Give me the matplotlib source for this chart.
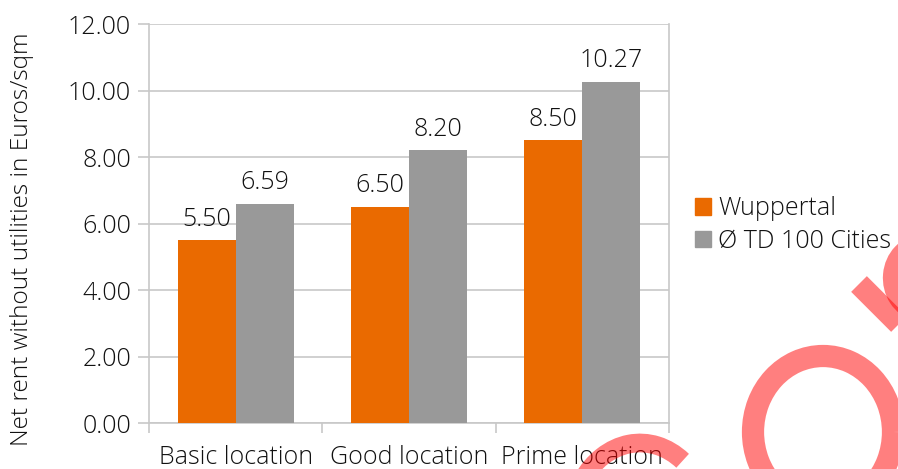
import matplotlib
matplotlib.use("Agg")
import matplotlib.pyplot as plt
from matplotlib.patches import Patch, Arc
import numpy as np

# chart data
categories = ["Basic location", "Good location", "Prime location"]
series_names = ["Wuppertal", "\u00d8 TD 100 Cities"]
wuppertal = [5.50, 6.50, 8.50]
td100 = [6.59, 8.20, 10.27]
y_ticks = [0, 2, 4, 6, 8, 10, 12]
y_label = "Net rent without utilities in Euros/sqm"

ORANGE = "#ea6a00"
GREY = "#999999"
LINE = "#c8c8c8"
TEXT = "#111111"
FS = 18

plt.rcParams["font.family"] = ["Open Sans", "DejaVu Sans"]
plt.rcParams["font.weight"] = "light"

W, H = 898, 469
fig = plt.figure(figsize=(W / 100, H / 100), dpi=100)
ax = fig.add_axes([149 / W, 1 - 423 / H, 520 / W, 399 / H])

x = np.arange(len(categories))
bw = 0.335
b1 = ax.bar(x - bw / 2, wuppertal, bw, color=ORANGE, zorder=3)
b2 = ax.bar(x + bw / 2, td100, bw, color=GREY, zorder=3)

# value labels above each bar
for bars, vals in ((b1, wuppertal), (b2, td100)):
    for rect, v in zip(bars, vals):
        ax.annotate("%.2f" % v, (rect.get_x() + rect.get_width() / 2, v),
                    xytext=(0, 10.5), textcoords="offset points",
                    ha="center", va="baseline", fontsize=FS, color=TEXT)

ax.set_xlim(-0.5, len(categories) - 0.5)
ax.set_ylim(0, 12)
ax.set_yticks(y_ticks)
ax.set_yticklabels(["%.2f" % t for t in y_ticks])
ax.set_xticks(x)
ax.set_xticklabels(categories)
ax.set_xticks(np.arange(len(categories) + 1) - 0.5, minor=True)

ax.grid(axis="y", color=LINE, lw=1.2, zorder=0)
ax.tick_params(axis="y", length=8, width=1.2, color=LINE, pad=5,
               labelsize=FS, labelcolor=TEXT)
ax.tick_params(axis="x", which="major", length=0, pad=15.5, labelsize=FS,
               labelcolor=TEXT)
ax.tick_params(axis="x", which="minor", length=7.5, width=1.2, color=LINE)
for side in ("left", "right", "bottom"):
    ax.spines[side].set_color(LINE)
    ax.spines[side].set_linewidth(1.2)
ax.spines["top"].set_visible(False)

fig.text(22 / W, 1 - 239 / H, y_label, rotation=90, ha="center", va="center",
         fontsize=17.6, color=TEXT)

handles = [Patch(color=ORANGE), Patch(color=GREY)]
fig.legend(handles, series_names, loc="center left",
           bbox_to_anchor=(695 / W, 1 - 225 / H), frameon=False,
           fontsize=FS, handlelength=0.64, handleheight=0.64,
           handletextpad=0.3, labelspacing=0.3, borderpad=0,
           borderaxespad=0, labelcolor=TEXT)

# stamp in the lower right corner, drawn in pixel coordinates
stamp = fig.add_axes([0, 0, 1, 1], zorder=10)
stamp.set_xlim(0, W)
stamp.set_ylim(0, H)
stamp.axis("off")
stamp.patch.set_alpha(0)
red = (1, 0, 0, 0.5)
stamp.add_patch(Arc((823, H - 432), 140, 152, theta1=0, theta2=360,
                    lw=16, color=red))
stamp.add_patch(Arc((922, H - 278), 56, 64, theta1=90, theta2=260,
                    lw=16, color=red))
stamp.add_patch(Arc((640, -60), 140, 172, theta1=58, theta2=140,
                    lw=13.5, color=red))
stamp.plot([859, 930], [H - 284, H - 355], color=red, lw=16,
           solid_capstyle="butt")

fig.savefig("out.png", dpi=100)
